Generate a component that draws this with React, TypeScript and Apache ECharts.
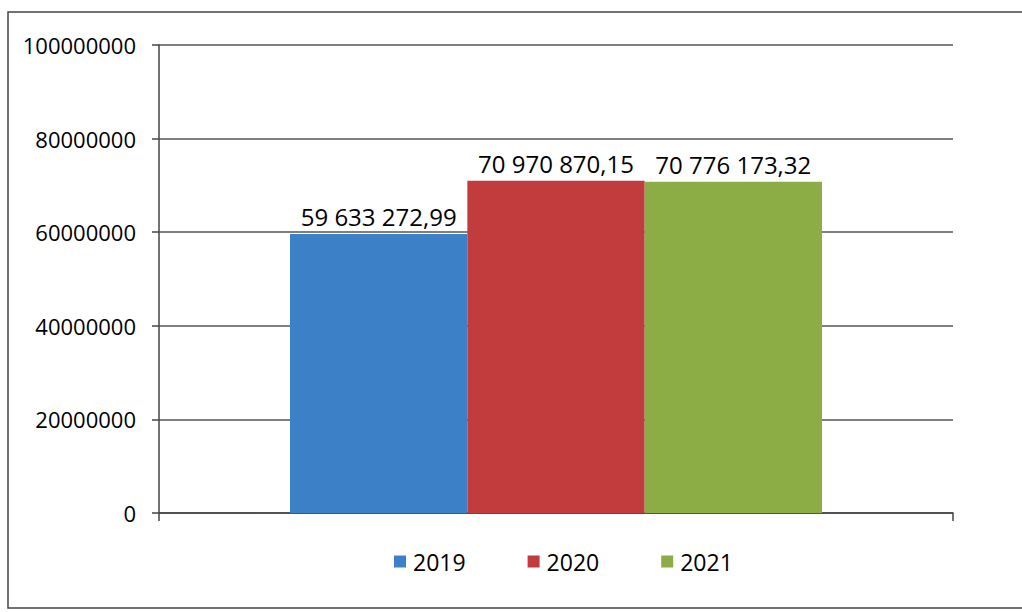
import React, { useEffect, useRef } from "react";
import * as echarts from "echarts";

const categories = [""];
const seriesNames = ["2019", "2020", "2021"];
const seriesValues = [59633272.99, 70970870.15, 70776173.32];
const seriesColors = ["#3c80c8", "#c23b3d", "#8cad46"];
const yTicks = { min: 0, max: 100000000, interval: 20000000 };

const fmt = (v: number) => {
  const [i, d] = v.toFixed(2).split(".");
  return i.replace(/\B(?=(\d{3})+(?!\d))/g, " ") + "," + d;
};

export default function App() {
  const ref = useRef<HTMLDivElement>(null);
  useEffect(() => {
    if (!ref.current) return;
    const chart = echarts.init(ref.current, null, { renderer: "svg" });
    const font = "'Open Sans', sans-serif";
    chart.setOption({
      animation: false,
      backgroundColor: "#ffffff",
      textStyle: { fontFamily: font },
      graphic: [
        {
          type: "rect",
          shape: { x: 8, y: 12, width: 1040, height: 596 },
          style: { fill: "none", stroke: "#444", lineWidth: 1.5 },
          silent: true,
        },
      ],
      grid: { left: 159, right: 69, top: 45, bottom: 99, containLabel: false },
      legend: {
        data: seriesNames,
        top: 545,
        left: 389,
        icon: "rect",
        itemWidth: 12,
        itemHeight: 12,
        itemGap: 62,
        textStyle: { fontFamily: font, fontSize: 23, color: "#000", padding: [0, 0, 0, 2] },
      },
      xAxis: {
        type: "category",
        data: categories,
        axisLine: { lineStyle: { color: "#444", width: 1.5 } },
        axisTick: { show: true, length: 8, lineStyle: { color: "#444", width: 1.5 } },
        axisLabel: { show: false },
      },
      yAxis: {
        type: "value",
        min: yTicks.min,
        max: yTicks.max,
        interval: yTicks.interval,
        axisLine: { show: true, lineStyle: { color: "#444", width: 1.5 } },
        axisTick: { show: true, length: 7, lineStyle: { color: "#444", width: 1.5 } },
        axisLabel: {
          fontFamily: font,
          fontSize: 22,
          color: "#000",
          margin: 23,
          formatter: (v: number) => String(v),
        },
        splitLine: { lineStyle: { color: "#555", width: 1.5 } },
      },
      series: seriesNames.map((name, idx) => ({
        name,
        type: "bar",
        barGap: "0%",
        barCategoryGap: "33%",
        data: [seriesValues[idx]],
        itemStyle: { color: seriesColors[idx] },
        label: {
          show: true,
          position: "top",
          distance: 5,
          fontFamily: font,
          fontSize: 24,
          color: "#000",
          formatter: (p: any) => fmt(p.value),
        },
      })),
    });
    return () => chart.dispose();
  }, []);
  return (
    <div
      ref={ref}
      style={{ position: "absolute", left: 0, top: 0, width: 1022, height: 612 }}
    />
  );
}
